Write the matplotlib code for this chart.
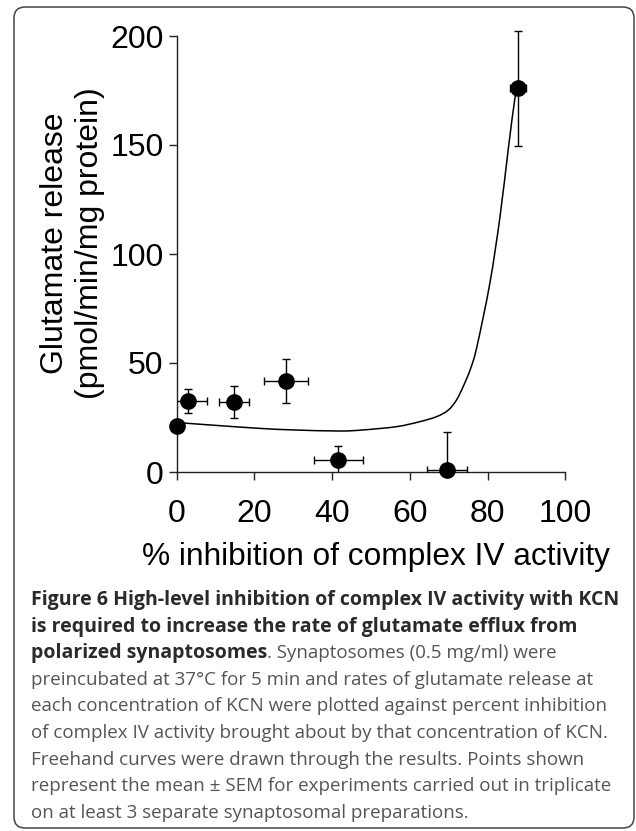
import numpy as np
import matplotlib
matplotlib.use('Agg')
import matplotlib.pyplot as plt
from matplotlib.patches import FancyBboxPatch, PathPatch
from matplotlib.path import Path
from matplotlib.transforms import IdentityTransform

# data
inhib = [0.0, 3.0, 14.7, 28.1, 41.6, 69.5, 87.8]
inhib_err = [0.0, 4.9, 3.9, 5.6, 6.3, 5.1, 2.0]
release = [21.2, 32.6, 32.1, 41.7, 5.5, 0.9, 176.0]
release_err = [0.0, 5.6, 7.3, 10.2, 6.6, 17.3, 26.4]

# freehand curve (points along it)
curve_x = [0, 10, 21.5, 30, 42, 48, 56.6, 62.6, 66.9, 69.9, 72.0, 73.7, 75.5,
           77.2, 80.6, 83.2, 85.3, 87.1, 87.8]
curve_y = [22.7, 21.4, 20.0, 19.3, 18.8, 19.3, 20.8, 23.1, 25.4, 28.4, 33.0,
           39.1, 46.8, 57.0, 86.7, 117.1, 147.7, 172.2, 176.0]

xticks = [0, 20, 40, 60, 80, 100]
yticks = [0, 50, 100, 150, 200]

caption_bold = ["Figure 6 High-level inhibition of complex IV activity with KCN",
                "is required to increase the rate of glutamate efflux from",
                "polarized synaptosomes"]
caption_rest = [". Synaptosomes (0.5 mg/ml) were",
                "preincubated at 37\u00b0C for 5 min and rates of glutamate release at",
                "each concentration of KCN were plotted against percent inhibition",
                "of complex IV activity brought about by that concentration of KCN.",
                "Freehand curves were drawn through the results. Points shown",
                "represent the mean \u00b1 SEM for experiments carried out in triplicate",
                "on at least 3 separate synaptosomal preparations."]


def smooth_path(xs, ys):
    # catmull-rom through the points, drawn as cubic bezier segments
    pts = list(zip(xs, ys))
    verts = [pts[0]]
    codes = [Path.MOVETO]
    for i in range(len(pts) - 1):
        p0 = pts[i - 1] if i > 0 else pts[i]
        p1 = pts[i]
        p2 = pts[i + 1]
        p3 = pts[i + 2] if i + 2 < len(pts) else pts[i + 1]
        c1 = (p1[0] + (p2[0] - p0[0]) / 6, p1[1] + (p2[1] - p0[1]) / 6)
        c2 = (p2[0] - (p3[0] - p1[0]) / 6, p2[1] - (p3[1] - p1[1]) / 6)
        verts += [c1, c2, p2]
        codes += [Path.CURVE4] * 3
    return Path(verts, codes)


W, H = 636, 831
fig = plt.figure(figsize=(W / 100, H / 100), dpi=100)
plt.rcParams['font.family'] = ['Liberation Sans', 'DejaVu Sans']

# axes placed in pixels: x 0->176.6, 100->565.3 ; y 0->472, 200->36
ax = fig.add_axes([176.6 / W, 1 - 472 / H, (565.3 - 176.6) / W, (472 - 14.2) / H])
ax.set_xlim(0, 100)
ax.set_ylim(0, 210)

ax.add_patch(PathPatch(smooth_path(curve_x, curve_y), fill=False,
                       ec='black', lw=1.1, zorder=2))
ax.errorbar(inhib, release, yerr=release_err, xerr=inhib_err, fmt='none',
            ecolor='black', elinewidth=1.0, capsize=3, capthick=1.0, zorder=3)
ax.plot(inhib, release, 'o', color='black', ms=11, clip_on=False, zorder=4)

for s in ['top', 'right']:
    ax.spines[s].set_visible(False)
ax.spines['left'].set_bounds(0, 200)
ax.spines['bottom'].set_bounds(0, 100)
for s in ['left', 'bottom']:
    ax.spines[s].set_linewidth(1.0)
    ax.spines[s].set_color('#222222')
ax.patch.set_alpha(0)

ax.set_xticks(xticks)
ax.set_yticks(yticks)
ax.tick_params(axis='both', length=5.8, width=1.0, color='#222222', labelsize=23)
ax.tick_params(axis='x', pad=14)
ax.tick_params(axis='y', pad=3.6)

ax.set_xlabel('% inhibition of complex IV activity', fontsize=22.8, labelpad=9)
ax.xaxis.label.set_x(0.514)
ax.set_ylabel('Glutamate release\n(pmol/min/mg protein)', fontsize=23,
              linespacing=1.2, labelpad=4)

# caption
cap_font = ['Open Sans', 'DejaVu Sans']
x0 = 30.7 / W
base = 605.0
step = 26.6
renderer = fig.canvas.get_renderer()
lines_y = [1 - (base + i * step) / H for i in range(9)]
for i, t in enumerate(caption_bold):
    txt = fig.text(x0, lines_y[i], t, family=cap_font, fontsize=14,
                   fontweight='bold', color='#2a2a2a', va='baseline')
bb = txt.get_window_extent(renderer)
fig.text(bb.x1 / W, lines_y[2], caption_rest[0], family=cap_font,
         fontsize=13.5, color='#555555', va='baseline')
for i, t in enumerate(caption_rest[1:]):
    fig.text(x0, lines_y[3 + i], t, family=cap_font, fontsize=13.5,
             color='#555555', va='baseline')

# rounded frame around the whole figure
frame = FancyBboxPatch((14, H - 828), 620, 821,
                       boxstyle="round,pad=0,rounding_size=11",
                       transform=IdentityTransform(), fill=False,
                       ec='#444444', lw=1.1)
fig.add_artist(frame)

fig.savefig('out.png', dpi=100)
